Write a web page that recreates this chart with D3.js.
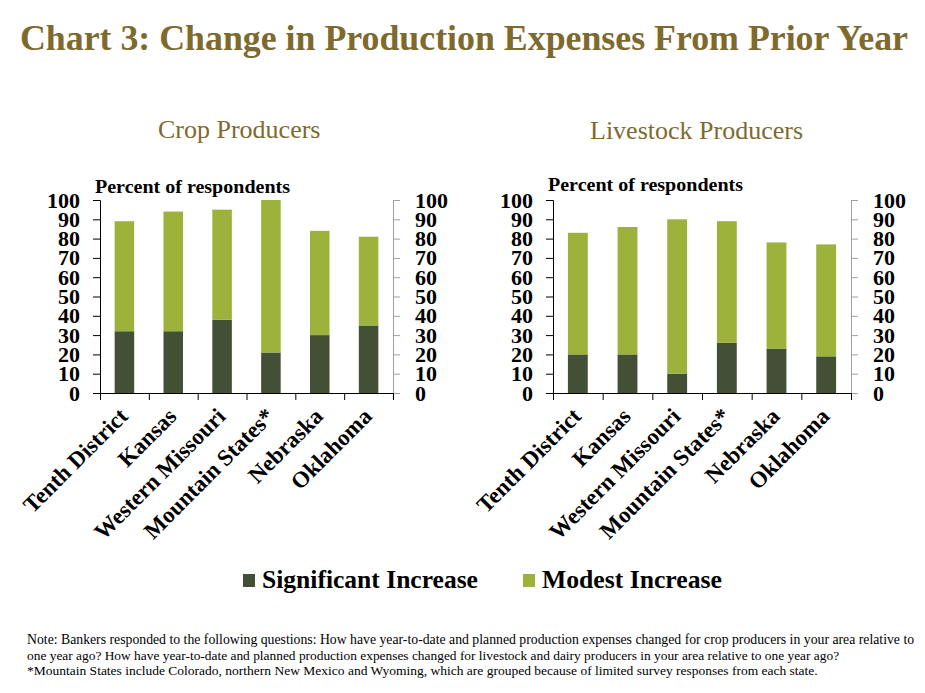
<!DOCTYPE html>
<html>
<head>
<meta charset="utf-8">
<script src="https://cdn.jsdelivr.net/npm/d3@7"></script>
<style>
  body { margin: 0; background: #fff; }
  svg { display: block; }
  svg text { font-family: "Liberation Serif", "Times New Roman", serif; }
</style>
</head>
<body>
<div id="chart"></div>
<script>
// data
const categories = ["Tenth District", "Kansas", "Western Missouri", "Mountain States*", "Nebraska", "Oklahoma"];
const cropSignificant = [32, 32, 38, 21, 30, 35];
const cropModest = [57, 62, 57, 79, 54, 46];
const livestockSignificant = [20, 20, 10, 26, 23, 19];
const livestockModest = [63, 66, 80, 63, 55, 58];
const yTicks = [0, 10, 20, 30, 40, 50, 60, 70, 80, 90, 100];
const seriesNames = ["Significant Increase", "Modest Increase"];
const noteLines = [
    "Note: Bankers responded to the following questions: How have year-to-date and planned production expenses changed for crop producers in your area relative  to",
    "one year ago? How have year-to-date and planned production expenses changed for livestock and dairy producers in your area relative to one year ago?",
    "*Mountain States include Colorado, northern New Mexico and Wyoming, which are grouped because of limited  survey responses from each state."
];

const W = 925, H = 693;
const serif = "Liberation Serif";
const gold = "#7f6a2e";
const darkGreen = "#445036";
const lightGreen = "#9cb23b";
const colors = [darkGreen, lightGreen];

const svg = d3.select("#chart")
    .append("svg")
    .attr("width", W)
    .attr("height", H)
    .style("font-family", serif);

// stretch/squeeze a text node to a given width
function fitText(sel, width) {
    sel.attr("textLength", width).attr("lengthAdjust", "spacingAndGlyphs");
}

// scale the font size so the text comes out at the given width
function fitSize(sel, width, base) {
    const w = sel.node().getComputedTextLength();
    sel.style("font-size", (base * width / w).toFixed(2) + "px");
}

// main title
svg.append("text")
    .attr("x", 20)
    .attr("y", 50)
    .style("font-size", "36px")
    .style("font-weight", "bold")
    .attr("fill", gold)
    .text("Chart 3: Change in Production Expenses From Prior Year")
    .call(fitText, 888);

function drawPanel(opts) {
    const { left, right, top, bottom, title, titleX, titleY, capY, sig, mod } = opts;
    const width = right - left;
    const height = bottom - top;

    const g = svg.append("g").attr("transform", `translate(${left},${top})`);

    const x = d3.scaleBand()
        .domain(categories)
        .range([0, width])
        .paddingInner(0.6)
        .paddingOuter(0.3);

    const y = d3.scaleLinear()
        .domain([0, 100])
        .range([height, 0]);

    // panel title
    svg.append("text")
        .attr("x", titleX)
        .attr("y", titleY)
        .style("font-size", "26px")
        .attr("fill", gold)
        .text(title);

    // axis caption
    g.append("text")
        .attr("x", -5)
        .attr("y", capY - top)
        .style("font-size", "19px")
        .style("font-weight", "bold")
        .text("Percent of respondents")
        .call(fitText, 195);

    // stacked bars
    const stackData = categories.map((c, i) => ({ cat: c, s0: sig[i], s1: mod[i] }));
    const stacked = d3.stack().keys(["s0", "s1"])(stackData);

    g.selectAll(".layer")
        .data(stacked)
        .enter()
        .append("g")
        .attr("fill", (d, i) => colors[i])
        .selectAll("rect")
        .data(d => d)
        .enter()
        .append("rect")
        .attr("x", d => x(d.data.cat))
        .attr("y", d => y(d[1]))
        .attr("width", x.bandwidth())
        .attr("height", d => y(d[0]) - y(d[1]));

    // left axis
    const yLeft = g.append("g")
        .call(d3.axisLeft(y).tickValues(yTicks).tickSize(7).tickPadding(13));
    yLeft.select(".domain").attr("stroke", "#000");
    yLeft.selectAll("text")
        .style("font-family", serif)
        .style("font-size", "22px")
        .style("font-weight", "bold")
        .attr("fill", "#000");

    // right axis
    const yRight = g.append("g")
        .attr("transform", `translate(${width},0)`)
        .call(d3.axisRight(y).tickValues(yTicks).tickSize(7).tickPadding(15));
    yRight.select(".domain").attr("stroke", "#a0a0a0");
    yRight.selectAll(".tick line").attr("stroke", "#a0a0a0");
    yRight.selectAll("text")
        .style("font-family", serif)
        .style("font-size", "22px")
        .style("font-weight", "bold")
        .attr("fill", "#000");

    // bottom axis: ticks between categories
    const bounds = d3.range(categories.length + 1).map(i => i * x.step());
    const xAxis = g.append("g")
        .attr("transform", `translate(0,${height})`)
        .call(d3.axisBottom(d3.scaleLinear().domain([0, width]).range([0, width]))
            .tickValues(bounds).tickSize(7).tickFormat(""));
    xAxis.select(".domain").attr("stroke", "#000");

    // category labels
    g.selectAll(".catLabel")
        .data(categories)
        .enter()
        .append("text")
        .attr("transform", d => `translate(${x(d) + x.bandwidth() / 2 - 1},${height + 19}) rotate(-45)`)
        .attr("text-anchor", "end")
        .attr("dy", "0.35em")
        .style("font-size", "23px")
        .style("font-weight", "bold")
        .text(d => d);
}

drawPanel({
    left: 100, right: 393, top: 200, bottom: 393,
    title: "Crop Producers", titleX: 158, titleY: 138, capY: 193,
    sig: cropSignificant, mod: cropModest
});

drawPanel({
    left: 553, right: 851, top: 200, bottom: 393,
    title: "Livestock Producers", titleX: 590, titleY: 139, capY: 191,
    sig: livestockSignificant, mod: livestockModest
});

// legend
const legendX = [243, 523];
const legendW = [216, 180];
const legend = svg.append("g");
seriesNames.forEach((name, i) => {
    legend.append("rect")
        .attr("x", legendX[i])
        .attr("y", 574)
        .attr("width", 12)
        .attr("height", 13)
        .attr("fill", colors[i]);
    legend.append("text")
        .attr("x", legendX[i] + 19)
        .attr("y", 588)
        .style("font-size", "25px")
        .style("font-weight", "bold")
        .text(name)
        .call(fitSize, legendW[i], 25);
});

// note
const noteW = [888, 813, 791];
noteLines.forEach((line, i) => {
    svg.append("text")
        .attr("x", 27)
        .attr("y", 644 + i * 15.6)
        .style("font-size", "13.5px")
        .text(line)
        .call(fitSize, noteW[i], 13.5);
});
</script>
</body>
</html>
